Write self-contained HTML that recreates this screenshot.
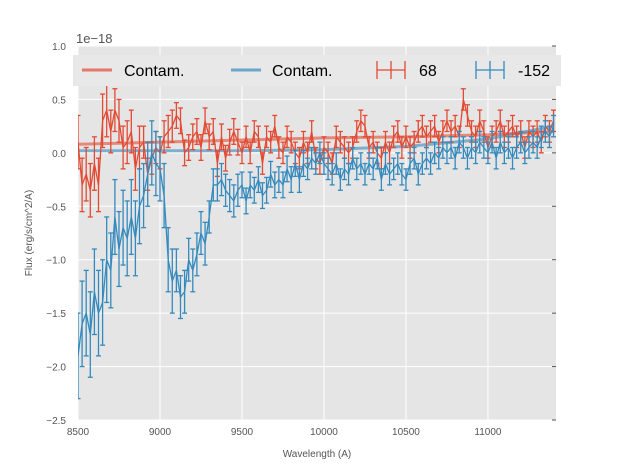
<!DOCTYPE html>
<html><head><meta charset="utf-8"><style>
body{margin:0;background:#fff;}
svg{display:block;font-family:"Liberation Sans",sans-serif;}
</style></head><body>
<svg id="chart" width="617" height="467">
<rect x="78" y="46" width="478" height="374" fill="#e5e5e5"/>
<g id="grid"></g>
<g id="series"></g>
<g id="ticks"></g>
<text x="76" y="43" font-size="13" fill="#555">1e−18</text>
<text x="317" y="457" font-size="10" fill="#555" text-anchor="middle">Wavelength (A)</text>
<text transform="translate(32,233) rotate(-90)" font-size="10" fill="#555" text-anchor="middle">Flux (erg/s/cm^2/A)</text>
<g>
<rect x="73" y="55" width="488" height="31" fill="#e8e8e8"/>
<g><line x1="82" y1="70" x2="112" y2="70" stroke="#E24A33" stroke-opacity="0.7" stroke-width="3"/><text x="124" y="76" font-size="16" fill="#000">Contam.</text></g>
<g><line x1="231" y1="70" x2="261" y2="70" stroke="#348ABD" stroke-opacity="0.7" stroke-width="3"/><text x="272" y="76" font-size="16" fill="#000">Contam.</text></g>
<g stroke="#E24A33" stroke-width="1.3"><line x1="377" y1="70" x2="405" y2="70"/><line x1="377" y1="61" x2="377" y2="79"/><line x1="405" y1="61" x2="405" y2="79"/><line x1="391" y1="61" x2="391" y2="79"/><text x="419" y="76" font-size="16" fill="#000" stroke="none">68</text></g>
<g stroke="#348ABD" stroke-width="1.3"><line x1="476" y1="70" x2="504" y2="70"/><line x1="476" y1="61" x2="476" y2="79"/><line x1="504" y1="61" x2="504" y2="79"/><line x1="490" y1="61" x2="490" y2="79"/><text x="518" y="76" font-size="16" fill="#000" stroke="none">-152</text></g>
</g>
</svg>
<script>
const wlStart = 8500, wlStep = 25;
const redFlux = [0.1,-0.3,-0.2,-0.35,-0.1,-0.3,0.3,0.4,
0.2,0.4,0.3,0.05,0.1,0.2,-0.15,0.05,
0.1,-0.2,-0.05,0.05,0.0,0.15,0.2,0.25,
0.35,0.3,0.0,0.05,0.15,0.2,0.05,0.3,
0.15,0.2,-0.1,0.15,-0.05,0.1,0.2,0.1,
0.0,0.15,0.0,0.2,0.15,-0.1,0.15,0.1,
0.25,0.05,0.0,0.15,0.1,0.0,-0.05,0.1,
0.0,0.2,-0.05,-0.1,0.05,0.0,-0.1,0.15,
0.1,0.05,0.0,0.05,0.2,0.3,0.25,0.05,
0.1,0.0,-0.05,0.1,0.0,0.15,0.2,0.05,
0.15,0.05,0.1,0.2,0.25,0.15,0.2,0.25,
0.1,0.2,0.3,0.2,0.25,0.15,0.5,0.35,
0.2,0.15,0.3,0.2,0.05,0.15,0.2,0.3,
0.15,0.2,0.25,0.15,0.2,0.05,0.2,0.15,
0.2,0.1,0.25,0.2,0.3];
const blueFlux = [-1.9,-1.6,-1.5,-1.7,-1.3,-1.5,-1.4,-1.0,
-1.1,-0.6,-0.9,-0.7,-0.8,-0.6,-0.8,-0.5,
-0.4,-0.2,0.0,-0.1,-0.15,-0.4,-1.0,-1.2,
-1.1,-1.35,-1.3,-1.0,-1.1,-0.95,-0.75,-0.85,
-0.6,-0.3,-0.3,-0.25,-0.35,-0.4,-0.45,-0.35,
-0.3,-0.45,-0.3,-0.35,-0.25,-0.4,-0.35,-0.2,
-0.3,-0.25,-0.3,-0.15,-0.25,-0.1,-0.25,-0.1,
-0.15,-0.05,-0.1,0.0,-0.1,-0.15,-0.2,-0.1,
-0.25,-0.15,-0.2,-0.05,-0.15,-0.1,-0.2,-0.1,
-0.15,-0.05,-0.25,-0.1,-0.2,-0.15,-0.1,-0.2,
-0.25,-0.1,-0.05,-0.2,-0.1,-0.05,-0.1,0.0,
-0.05,0.05,0.0,0.05,-0.05,0.1,0.05,-0.05,
0.05,0.0,0.1,0.05,0.0,0.1,-0.05,0.1,
0.0,0.05,-0.05,0.05,0.1,0.0,0.05,0.1,
0.05,0.15,0.2,0.15,0.25];
const redErrBlocks = [0.25,0.2,0.15,0.12,0.12,0.1,0.1,0.1,0.1,0.1,0.1,0.1,0.1,0.1,0.1];
const blueErrBlocks = [0.4,0.35,0.3,0.2,0.15,0.12,0.12,0.1,0.1,0.1,0.1,0.1,0.1,0.1,0.1];
const contamWl = [8500,9000,9500,10000,10500,11000,11400];
const contamRed = [0.08,0.1,0.12,0.14,0.15,0.17,0.2];
const contamBlue = [0.02,0.02,0.02,0.03,0.06,0.13,0.25];
const xTicks = [8500,9000,9500,10000,10500,11000];
const xTickLabels = ["8500","9000","9500","10000","10500","11000"];
const yTicks = [1.0,0.5,0.0,-0.5,-1.0,-1.5,-2.0,-2.5];
const yTickLabels = ["1.0","0.5","0.0","−0.5","−1.0","−1.5","−2.0","−2.5"];

const X0=78,X1=556,Y0=46,Y1=420, xmin=8500,xmax=11415,ymin=-2.5,ymax=1.0;
const sx=v=>X0+(v-xmin)/(xmax-xmin)*(X1-X0);
const sy=v=>Y1-(v-ymin)/(ymax-ymin)*(Y1-Y0);
const NS="http://www.w3.org/2000/svg";
function mk(tag,attrs,parent){const e=document.createElementNS(NS,tag);for(const k in attrs)e.setAttribute(k,attrs[k]);parent.appendChild(e);return e;}
const grid=document.getElementById('grid'),ticks=document.getElementById('ticks'),ser=document.getElementById('series');
xTicks.forEach((t,i)=>{
 const g=mk('line',{x1:sx(t),x2:sx(t),y1:Y0,y2:Y1,stroke:'#fff','stroke-width':1},grid);
 
 
 const tx=mk('text',{x:sx(t),y:Y1+15,'font-size':10,fill:'#555','text-anchor':'middle'},ticks);
 tx.textContent=xTickLabels[i];
 
 
});
yTicks.forEach((t,i)=>{
 const g=mk('line',{x1:X0,x2:X1,y1:sy(t),y2:sy(t),stroke:'#fff','stroke-width':1},grid);
 
 
 mk('line',{x1:X1-4,x2:X1,y1:sy(t),y2:sy(t),stroke:'#555'},ticks);
 const tx=mk('text',{x:X0-12,y:sy(t)+4,'font-size':10,fill:'#555','text-anchor':'end'},ticks);
 tx.textContent=yTickLabels[i];
 
 
});
function contam(vals,color,name){
 const p=mk('polyline',{points:contamWl.map((w,i)=>sx(w)+','+sy(vals[i])).join(' '),fill:'none',stroke:color,'stroke-opacity':0.6,'stroke-width':3},ser);
 
 
}
function errSeries(vals,errs,color,name){
 const g=mk('g',{stroke:color,'stroke-width':1.3,fill:'none'},ser);
 
 
 const pts=[];
 vals.forEach((v,i)=>{
  const w=wlStart+i*wlStep, x=sx(w), e=errs[Math.min(errs.length-1,Math.floor((w-wlStart)/200))];
  pts.push(x+','+sy(v));
  if(x>X1+1) return;
  mk('line',{x1:x,x2:x,y1:sy(v+e),y2:sy(v-e)},g);
  mk('line',{x1:x-2.5,x2:x+2.5,y1:sy(v+e),y2:sy(v+e)},g);
  mk('line',{x1:x-2.5,x2:x+2.5,y1:sy(v-e),y2:sy(v-e)},g);
 });
 mk('polyline',{points:pts.join(' ')},g);
}
contam(contamRed,'#E24A33','contam-line-red');
contam(contamBlue,'#348ABD','contam-line-blue');
errSeries(redFlux,redErrBlocks,'#E24A33','series-68');
errSeries(blueFlux,blueErrBlocks,'#348ABD','series-minus-152');
const cp=mk('clipPath',{id:'clip'},document.getElementById('chart'));
mk('rect',{x:X0,y:Y0,width:X1-X0,height:Y1-Y0},cp);
ser.setAttribute('clip-path','url(#clip)');
</script>
</body></html>
